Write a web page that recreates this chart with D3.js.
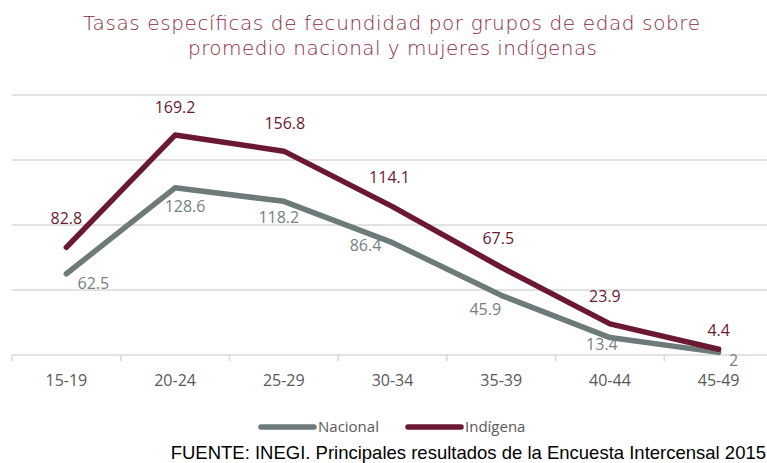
<!DOCTYPE html>
<html>
<head>
<meta charset="utf-8">
<script src="https://cdn.jsdelivr.net/npm/d3@7"></script>
<style>
  body { margin: 0; background: #fff; }
</style>
</head>
<body>
<div id="vis"></div>
<script>
// data
let grupos = ['15-19', '20-24', '25-29', '30-34', '35-39', '40-44', '45-49'];
let nacional = [62.5, 128.6, 118.2, 86.4, 45.9, 13.4, 2];
let indigena = [82.8, 169.2, 156.8, 114.1, 67.5, 23.9, 4.4];
let yTicks = [0, 50, 100, 150, 200];

let width = 767, height = 463;

let colNac = '#6e7a7a', colInd = '#6b1933';

let svg = d3.select('#vis')
  .append('svg')
  .attr('width', width)
  .attr('height', height);

let x = d3.scaleBand().domain(grupos).range([12, 773]);
let y = d3.scaleLinear().domain([0, 200]).range([355, 95]);

// title
svg.append('text')
  .attr('x', 83).attr('y', 30)
  .attr('textLength', 617).attr('lengthAdjust', 'spacing')
  .style('font-family', 'DejaVu Sans').style('font-weight', 200)
  .style('font-size', '20px').attr('fill', '#8b2a42')
  .text('Tasas específicas de fecundidad por grupos de edad sobre');
svg.append('text')
  .attr('x', 188).attr('y', 55)
  .attr('textLength', 409).attr('lengthAdjust', 'spacing')
  .style('font-family', 'DejaVu Sans').style('font-weight', 200)
  .style('font-size', '20px').attr('fill', '#8b2a42')
  .text('promedio nacional y mujeres indígenas');

// gridlines
svg.append('g')
  .selectAll('line')
  .data(yTicks)
  .enter()
  .append('line')
  .attr('x1', 12).attr('x2', 777)
  .attr('y1', d => y(d)).attr('y2', d => y(d))
  .attr('stroke', '#d9d9d9')
  .attr('stroke-width', 1.5);

// x axis
let xAxis = svg.append('g')
  .attr('transform', 'translate(0,355)')
  .call(d3.axisBottom(x).tickSize(0).tickPadding(20));
xAxis.select('.domain').remove();
xAxis.selectAll('text')
  .style('font-family', 'Open Sans')
  .style('font-size', '16px')
  .attr('fill', '#595959');
// tick marks between categories
svg.append('g')
  .selectAll('line')
  .data(grupos.concat(['end']))
  .enter()
  .append('line')
  .attr('x1', (d, i) => 12 + i * x.step())
  .attr('x2', (d, i) => 12 + i * x.step())
  .attr('y1', 355).attr('y2', 361)
  .attr('stroke', '#d9d9d9')
  .attr('stroke-width', 1.5);

let line = d3.line()
  .x((d, i) => x(grupos[i]) + x.bandwidth() / 2)
  .y(d => y(d));

svg.append('path')
  .datum(nacional)
  .attr('d', line)
  .attr('fill', 'none')
  .attr('stroke', colNac)
  .attr('stroke-width', 5.5)
  .attr('stroke-linecap', 'round')
  .attr('stroke-linejoin', 'round');

svg.append('path')
  .datum(indigena)
  .attr('d', line)
  .attr('fill', 'none')
  .attr('stroke', colInd)
  .attr('stroke-width', 5.5)
  .attr('stroke-linecap', 'round')
  .attr('stroke-linejoin', 'round');

// label nudges (excel-ish placement)
let indOff = [[0, -29], [0, -28], [1, -28], [-3, -29], [-3, -29], [-5, -28], [0, -19]];
let nacOff = [[27, 10], [10, 19], [-5, 16], [-27, 3], [-16, 14], [-8, 7], [15, 8]];

svg.append('g')
  .selectAll('text')
  .data(indigena)
  .enter()
  .append('text')
  .attr('x', (d, i) => x(grupos[i]) + x.bandwidth() / 2 + indOff[i][0])
  .attr('y', (d, i) => y(d) + indOff[i][1])
  .attr('dy', '0.35em')
  .attr('text-anchor', 'middle')
  .style('font-family', 'Open Sans')
  .style('font-size', '16px')
  .attr('fill', colInd)
  .text(d => d);

svg.append('g')
  .selectAll('text')
  .data(nacional)
  .enter()
  .append('text')
  .attr('x', (d, i) => x(grupos[i]) + x.bandwidth() / 2 + nacOff[i][0])
  .attr('y', (d, i) => y(d) + nacOff[i][1])
  .attr('dy', '0.35em')
  .attr('text-anchor', 'middle')
  .style('font-family', 'Open Sans')
  .style('font-size', '16px')
  .attr('fill', '#76807f')
  .text(d => d);

// legend
let legend = [['Nacional', colNac, 261], ['Indígena', colInd, 408]];
let lg = svg.append('g')
  .selectAll('g')
  .data(legend)
  .enter()
  .append('g')
  .attr('transform', d => 'translate(' + d[2] + ',427)');
lg.append('line')
  .attr('x1', 0).attr('x2', 53)
  .attr('stroke', d => d[1])
  .attr('stroke-width', 5.5)
  .attr('stroke-linecap', 'round');
lg.append('text')
  .attr('x', 57).attr('dy', '0.35em')
  .style('font-family', 'Open Sans')
  .style('font-size', '15px')
  .attr('fill', '#595959')
  .text(d => d[0]);

// source
svg.append('text')
  .attr('x', 766).attr('y', 459)
  .attr('text-anchor', 'end')
  .style('font-family', 'Liberation Sans')
  .style('font-size', '18.5px')
  .attr('fill', '#000')
  .text('FUENTE: INEGI. Principales resultados de la Encuesta Intercensal 2015');
</script>
</body>
</html>
